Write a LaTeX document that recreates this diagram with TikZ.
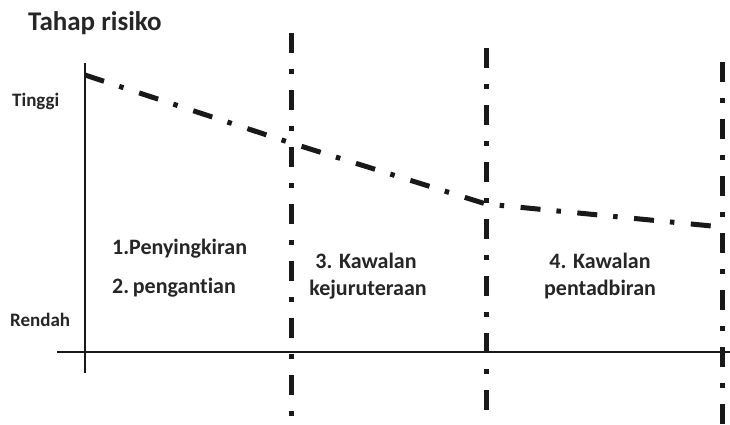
\documentclass[tikz,border=0pt]{standalone}
\usepackage{fontspec}
\setmainfont{Carlito}[Ligatures=NoCommon]
\begin{document}
\begin{tikzpicture}[x=1pt,y=-1pt,
  axisline/.style={line width=2.4pt,black!90},
  dashdot/.style={line width=5pt,black!90,dash pattern=on 20pt off 16pt on 4.5pt off 16.5pt},
  lbl/.style={font=\bfseries\fontsize{22}{26}\selectfont,text=black!85,inner sep=0pt},
  axlbl/.style={font=\bfseries\fontsize{19}{22}\selectfont,text=black!85,inner sep=0pt}]
  \useasboundingbox (0,0) rectangle (730,424);

  % axes
  \coordinate (ytop) at (85,63);
  \coordinate (ybot) at (85,373);
  \coordinate (xleft) at (57,352);
  \coordinate (xright) at (730,352);
  \draw[axisline] (ytop) -- (ybot);
  \draw[axisline] (xleft) -- (xright);

  % stage boundaries
  \coordinate (b1t) at (291,33);  \coordinate (b1b) at (291,424);
  \coordinate (b2t) at (486,48);  \coordinate (b2b) at (486,424);
  \coordinate (b3t) at (722,62);  \coordinate (b3b) at (722,424);
  \draw[dashdot] (b1t) -- (b1b);
  \draw[dashdot] (b2t) -- (b2b);
  \draw[dashdot] (b3t) -- (b3b);

  % risk level curve
  \coordinate (r0) at (85,75);
  \coordinate (r1) at (291,143);
  \coordinate (r2) at (486,204);
  \coordinate (r3) at (722,227);
  \draw[dashdot] (r0) -- (r1) -- (r2) -- (r3);

  % labels
  \node[anchor=base west,inner sep=0pt,font=\bfseries\fontsize{27}{31}\selectfont,text=black!85] (title) at (28,30) {Tahap risiko};
  \node[axlbl,anchor=base west] (high) at (12,106) {Tinggi};
  \node[axlbl,anchor=base west] (low) at (10,326) {Rendah};

  \node[lbl,anchor=base west] (s1) at (112,254) {1.Penyingkiran};
  \node[lbl,anchor=base west] (s2) at (112,293) {2.\,pengantian};
  \node[lbl,anchor=base] (s3a) at (366,268) {3. Kawalan};
  \node[lbl,anchor=base] (s3b) at (368,295) {kejuruteraan};
  \node[lbl,anchor=base] (s4a) at (600,268) {4. Kawalan};
  \node[lbl,anchor=base] (s4b) at (600,295) {pentadbiran};
\end{tikzpicture}
\end{document}
